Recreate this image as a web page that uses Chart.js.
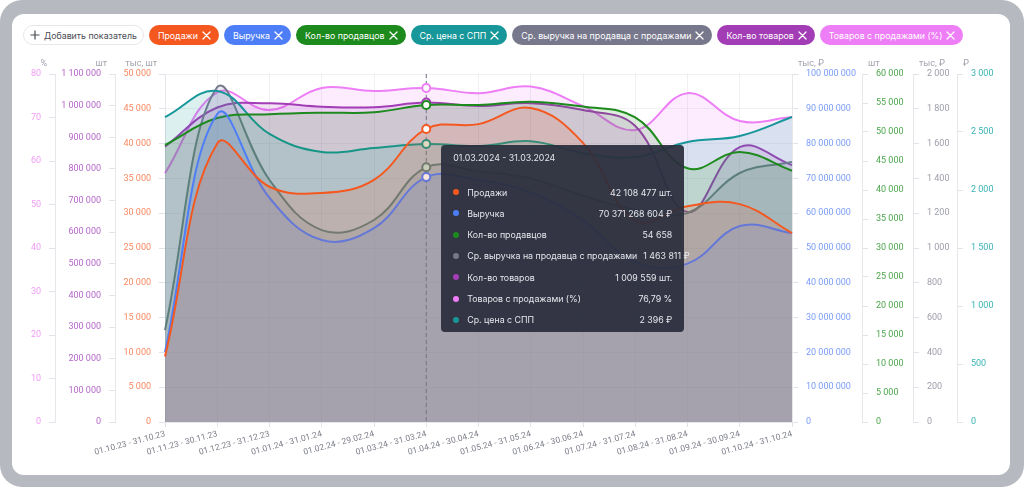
<!DOCTYPE html>
<html lang="ru">
<head>
<meta charset="utf-8">
<script src="https://cdn.jsdelivr.net/npm/chart.js@4.4.1/dist/chart.umd.min.js"></script>
<style>
html, body { margin:0; padding:0; background:#fff; }
body { width:1024px; height:487px; position:relative; overflow:hidden; font-family: Inter, "Noto Sans", sans-serif; }
.frame { position:absolute; left:0; top:0; width:1024px; height:487px; background:#b6b9c0; border-radius:22px; }
.card { position:absolute; left:12px; top:14px; width:998px; height:461px; background:#fff; border-radius:12px; }
.pills { position:absolute; left:23px; top:25px; display:flex; gap:5px; }
.pill { box-sizing:border-box; height:20px; border-radius:10px; padding:0 8px 0 9px; color:#fff; font-size:8.8px; display:flex; align-items:center; gap:4px; white-space:nowrap; }
.pill.add { background:#fff; color:#4a4c55; border:1px solid #e6e7eb; padding:0 6px 0 6px; gap:4px; }
#wrap { position:absolute; left:12px; top:55px; width:998px; height:415px; }
#tip { position:absolute; display:none; box-sizing:border-box; width:243px; height:187px; padding:7px 12px 1px 12px; background:rgba(42,45,60,0.93); border-radius:4px; color:#e6e7ec; font-size:8.8px; pointer-events:none; }
#tip .tt { height:12px; line-height:12px; margin-bottom:17px; }
#tip .row { height:21.3px; display:flex; align-items:center; }
#tip .dot { width:6px; height:6px; border-radius:50%; margin-right:8px; flex:none; }
#tip .lab { flex:1; white-space:nowrap; }
#tip .val { white-space:nowrap; margin-left:6px; }
</style>
</head>
<body>
<div class="frame"></div>
<div class="card"></div>
<div class="pills" id="pills"></div>
<div id="wrap"><canvas id="chart" width="998" height="415"></canvas><div id="tip"></div></div>
<script>
// периоды
var labels = ["01.10.23 - 31.10.23", "01.11.23 - 30.11.23", "01.12.23 - 31.12.23", "01.01.24 - 31.01.24",
    "01.02.24 - 29.02.24", "01.03.24 - 31.03.24", "01.04.24 - 30.04.24", "01.05.24 - 31.05.24",
    "01.06.24 - 30.06.24", "01.07.24 - 31.07.24", "01.08.24 - 31.08.24", "01.09.24 - 30.09.24",
    "01.10.24 - 31.10.24"];

// показатели (в исходных единицах)
var sales = [9400000, 40000000, 33800000, 32900000, 34800000, 42108477, 42800000, 45100000, 40100000, 29000000, 31000000, 31300000, 27150000];
var revenue = [20100000000, 88500000000, 64400000000, 52300000000, 55700000000, 70371268604, 69500000000, 66000000000, 58000000000, 46000000000, 45500000000, 56300000000, 54300000000];
var sellers = [47760, 52400, 53050, 53330, 53400, 54658, 54660, 55230, 54380, 52530, 43740, 46550, 43330];
var avgPrice = [2629, 2853, 2483, 2328, 2362, 2396, 2379, 2420, 2319, 2284, 2414, 2466, 2629];
var avgRevenue = [528000, 1925000, 1391000, 1103000, 1161000, 1463811, 1440000, 1400000, 1300000, 1220000, 1201000, 1431000, 1494000];
var items = [870200, 994000, 1007300, 996600, 994700, 1009559, 998800, 1007700, 986000, 935700, 663800, 869000, 812000];
var withSales = [57.2, 75.8, 71.7, 76.8, 76.1, 76.79, 75.6, 77.1, 72.6, 67.1, 75.6, 69.2, 70.1];

var names = ["Продажи", "Выручка", "Кол-во продавцов", "Ср. цена с СПП", "Ср. выручка на продавца с продажами", "Кол-во товаров", "Товаров с продажами (%)"];
var colors = ["#f4581f", "#4d7ef7", "#1d8a1d", "#17979a", "#77788c", "#a33db6", "#ee7ef6"];
var tickColors = ["#f98a62", "#7a9cf8", "#4ca64c", "#3ab3b5", "#9d9eaa", "#b467c8", "#f09cf5"];
var axisIds = ["ySales", "yRevenue", "ySellers", "yPrice", "yAvgRevenue", "yItems", "yPct"];
var units = ["тыс, шт", "тыс, ₽", "шт", "₽", "тыс, ₽", "шт", "%"];
var tipSuffix = [" шт.", " ₽", "", " ₽", " ₽", " шт.", " %"];
var tipOrder = [0, 1, 2, 4, 5, 6, 3];
var activeIndex = 5;

var series = [sales, revenue, sellers, avgPrice, avgRevenue, items, withSales];

function fmt(v) {
    return Math.round(v).toString().replace(/\B(?=(\d{3})+(?!\d))/g, ' ');
}
function alpha(hex, a) {
    var n = parseInt(hex.slice(1), 16);
    return `rgba(${n >> 16}, ${(n >> 8) & 255}, ${n & 255}, ${a})`;
}

// кнопки-показатели
var pills = document.getElementById('pills');
var cross = '<svg width="9" height="9" viewBox="0 0 9 9"><path d="M1 1L8 8M8 1L1 8" stroke="#fff" stroke-width="1.3" stroke-linecap="round"/></svg>';
pills.innerHTML = '<div class="pill add"><svg width="10" height="10" viewBox="0 0 10 10"><path d="M5 0.5V9.5M0.5 5H9.5" stroke="#4a4c55" stroke-width="1.2"/></svg>Добавить показатель</div>' +
    names.map((n, i) => `<div class="pill" style="background:${colors[i]}">${n}${cross}</div>`).join('');

function yAxis(i, position, max, step, width, tickFn, onArea) {
    return {
        type: 'linear',
        position: position,
        min: 0,
        max: max,
        grid: {
            drawOnChartArea: onArea,
            color: 'rgba(40,40,70,0.06)',
            tickLength: 6,
            tickColor: '#e2e3e8'
        },
        border: { color: '#e6e7eb' },
        ticks: {
            stepSize: step,
            padding: 8,
            color: tickColors[i],
            font: { family: 'Roboto', size: 9 },
            callback: tickFn
        },
        afterFit: function (scale) { scale.width = width; }
    };
}

var scales = {
    x: {
        grid: { color: 'rgba(40,40,70,0.07)', tickLength: 5, tickColor: '#e2e3e8' },
        border: { color: '#e6e7eb' },
        ticks: { autoSkip: false, minRotation: 15, maxRotation: 15, padding: 2, color: '#7d7f8a', font: { family: 'Roboto', size: 8.5 } },
        afterFit: function (scale) { scale.height = 40; }
    }
};
// слева: ближние к графику первыми
scales.ySales = yAxis(0, 'left', 50000000, 5000000, 50, v => fmt(v / 1000), true);
scales.yItems = yAxis(5, 'left', 1100000, 100000, 60, v => fmt(v), false);
scales.yPct = yAxis(6, 'left', 80, 10, 43, v => v, false);
// справа
scales.yRevenue = yAxis(1, 'right', 100000000000, 10000000000, 70, v => fmt(v / 1000), false);
scales.ySellers = yAxis(2, 'right', 60000, 5000, 51, v => fmt(v), false);
scales.yAvgRevenue = yAxis(4, 'right', 2000000, 200000, 44, v => fmt(v / 1000), false);
scales.yPrice = yAxis(3, 'right', 3000, 500, 48, v => fmt(v), false);

var datasets = series.map((d, i) => ({
    label: names[i],
    data: d,
    yAxisID: axisIds[i],
    borderColor: colors[i],
    backgroundColor: alpha(colors[i], 0.15),
    borderWidth: 2,
    fill: 'origin',
    tension: 0.4,
    pointRadius: 0,
    pointHoverRadius: 4,
    pointHoverBorderWidth: 2,
    pointHoverBackgroundColor: '#fff',
    pointHoverBorderColor: colors[i]
}));

var axisTitles = {
    id: 'axisTitles',
    afterDraw: function (chart) {
        var ctx = chart.ctx;
        ctx.save();
        ctx.font = '9px Roboto';
        ctx.fillStyle = '#a3a4ae';
        axisIds.forEach((id, i) => {
            var s = chart.scales[id];
            if (s.position === 'left') {
                ctx.textAlign = 'right';
                ctx.fillText(units[i], s.right - 8, chart.chartArea.top - 8);
            } else {
                ctx.textAlign = 'left';
                ctx.fillText(units[i], s.left + 6, chart.chartArea.top - 8);
            }
        });
        ctx.restore();
    }
};

var crosshair = {
    id: 'crosshair',
    beforeDatasetsDraw: function (chart) {
        var act = chart.getActiveElements();
        if (!act.length) return;
        var x = act[0].element.x;
        var ctx = chart.ctx;
        ctx.save();
        ctx.strokeStyle = '#6f7080';
        ctx.lineWidth = 1;
        ctx.setLineDash([4, 3]);
        ctx.beginPath();
        ctx.moveTo(x, chart.chartArea.top);
        ctx.lineTo(x, chart.chartArea.bottom);
        ctx.stroke();
        ctx.restore();
    }
};

function externalTip(context) {
    var chart = context.chart, tooltip = context.tooltip;
    var el = document.getElementById('tip');
    if (tooltip.opacity === 0 || !tooltip.dataPoints || !tooltip.dataPoints.length) {
        el.style.display = 'none';
        return;
    }
    var idx = tooltip.dataPoints[0].dataIndex;
    var title = labels[idx].replace(/\.(\d{2})(?=\s|$)/g, '.20$1');
    var html = `<div class="tt">${title}</div>`;
    tipOrder.forEach(di => {
        var ds = chart.data.datasets[di];
        var v = ds.data[idx];
        var txt = di === 6 ? v.toFixed(2).replace('.', ',') : fmt(v);
        html += `<div class="row"><span class="dot" style="background:${ds.borderColor}"></span><span class="lab">${ds.label}</span><span class="val">${txt}${tipSuffix[di]}</span></div>`;
    });
    el.innerHTML = html;
    el.style.left = (tooltip.caretX + 15) + 'px';
    el.style.top = (tooltip.caretY + 15) + 'px';
    el.style.display = 'block';
}

var chart = new Chart(document.getElementById('chart').getContext('2d'), {
    type: 'line',
    data: { labels: labels, datasets: datasets },
    options: {
        responsive: false,
        animation: false,
        events: [],
        layout: { padding: { left: 0, right: 5, top: 19, bottom: 8 } },
        interaction: { mode: 'index', intersect: false },
        plugins: {
            legend: { display: false },
            tooltip: { enabled: false, mode: 'index', intersect: false, external: externalTip }
        },
        scales: scales
    },
    plugins: [axisTitles, crosshair]
});

var active = datasets.map((d, i) => ({ datasetIndex: i, index: activeIndex }));
chart.setActiveElements(active);
chart.tooltip.setActiveElements(active, { x: 0, y: 0 });
chart.update();
</script>
</body>
</html>
